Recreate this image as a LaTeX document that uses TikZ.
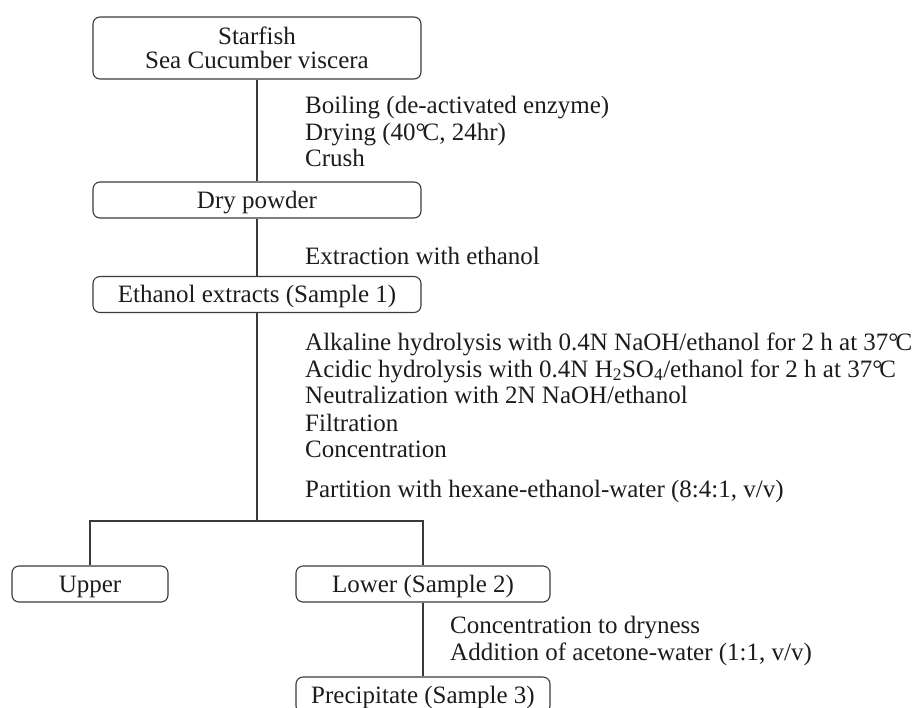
\documentclass[tikz,border=0pt]{standalone}
\usepackage{fontspec}
\setmainfont{Liberation Serif}
\definecolor{ink}{HTML}{1C1C1C}
\definecolor{wire}{HTML}{3A3A3A}
\newcommand\dgC{°\kern-0.12em C}
\begin{document}
\begin{tikzpicture}[x=1pt,y=-1pt,
  every node/.style={text=ink},
  box/.style={draw=wire, line width=1.1pt, rounded corners=7pt, inner sep=0pt,
     font=\fontsize{25}{25}\selectfont, align=center},
  sbox/.style={box, minimum height=36, text height=16.5pt, text depth=0pt},
  lbl/.style={anchor=base west, inner sep=0pt, font=\fontsize{25}{26}\selectfont},
  wire/.style={draw=wire, line width=1.1pt}]
\useasboundingbox (0,0) rectangle (917,707);

% boxes
\node[box, minimum width=328, minimum height=62] (src) at (257,48) {Starfish\\[-1pt]Sea Cucumber viscera};
\node[sbox, minimum width=328] (dry) at (257,200) {Dry powder};
\node[sbox, minimum width=328] (eth) at (257,294.5) {Ethanol extracts (Sample 1)};
\node[sbox, minimum width=156] (up) at (90,584) {Upper};
\node[sbox, minimum width=254] (low) at (423,584) {Lower (Sample 2)};
\node[sbox, minimum width=254] (prec) at (423,695) {Precipitate (Sample 3)};

% connectors
\coordinate (split) at (257,521);
\draw[wire] (src.south) -- (dry.north);
\draw[wire] (dry.south) -- (eth.north);
\draw[wire] (eth.south) -- (split);
\draw[wire] (up.north) |- (split) -| (low.north);
\draw[wire] (low.south) -- (prec.north);

% step labels
\node[lbl] (t1) at (305,113) {Boiling (de-activated enzyme)};
\node[lbl] (t2) at (305,140) {Drying (40\dgC, 24hr)};
\node[lbl] (t3) at (305,166) {Crush};
\node[lbl] (t4) at (305,264) {Extraction with ethanol};
\node[lbl] (t5) at (305,350) {Alkaline hydrolysis with 0.4N NaOH/ethanol for 2 h at 37\dgC};
\node[lbl] (t6) at (305,377) {Acidic hydrolysis with 0.4N H\textsubscript{2}SO\textsubscript{4}/ethanol for 2 h at 37\dgC};
\node[lbl] (t7) at (305,403) {Neutralization with 2N NaOH/ethanol};
\node[lbl] (t8) at (305,431) {Filtration};
\node[lbl] (t9) at (305,457) {Concentration};
\node[lbl] (t10) at (305,497) {Partition with hexane-ethanol-water (8:4:1, v/v)};
\node[lbl] (t11) at (450,633) {Concentration to dryness};
\node[lbl] (t12) at (450,660) {Addition of acetone-water (1:1, v/v)};
\end{tikzpicture}
\end{document}
